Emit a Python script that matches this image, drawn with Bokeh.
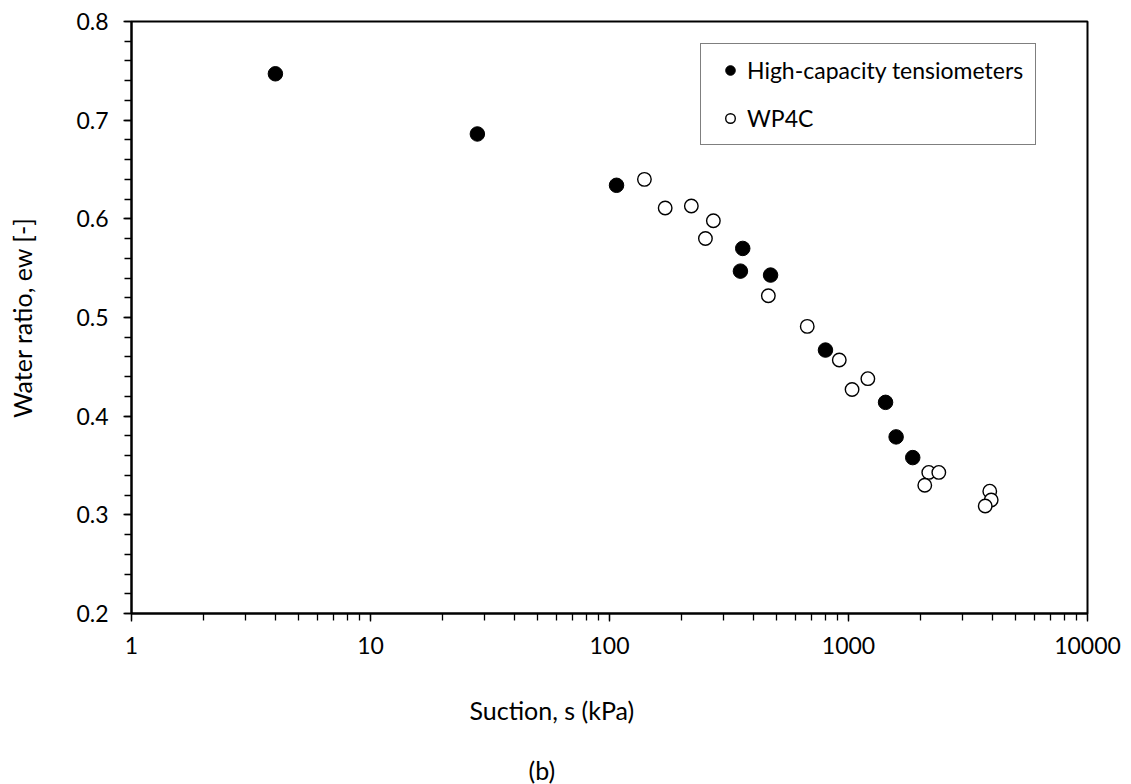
from bokeh.plotting import figure
from bokeh.models import (Range1d, FixedTicker, LogTicker, BasicTickFormatter,
                          Legend, LegendItem, Title)
from bokeh.embed import file_html
from bokeh.resources import INLINE

# ---- data ----
hct_suction = [4.0, 28, 107, 361, 353, 472, 801, 1429, 1582, 1857]
hct_ew = [0.747, 0.686, 0.634, 0.570, 0.547, 0.543, 0.467, 0.414, 0.379, 0.358]

wp4c_suction = [140, 171, 220, 272, 252, 462, 672, 915, 1035, 1205,
                2167, 2387, 2085, 3900, 3954, 3733]
wp4c_ew = [0.640, 0.611, 0.613, 0.598, 0.580, 0.522, 0.491, 0.457, 0.427, 0.438,
           0.343, 0.343, 0.330, 0.324, 0.315, 0.309]

x_ticks = [1, 10, 100, 1000, 10000]
y_ticks = [0.2, 0.3, 0.4, 0.5, 0.6, 0.7, 0.8]
y_minor = [round(0.2 + 0.02 * i, 2) for i in range(31)]

series_names = ["High-capacity tensiometers", "WP4C"]
x_title = "Suction, s (kPa)"
y_title = "Water ratio, ew [-]"
caption = "(b)"

FONT = "Lato"

p = figure(width=1131, height=784, x_axis_type="log",
           x_range=Range1d(1, 10000), y_range=Range1d(0.2, 0.8),
           output_backend="svg", toolbar_location=None,
           min_border_left=131, min_border_right=44,
           min_border_top=21, min_border_bottom=171)
p.background_fill_color = "white"
p.border_fill_color = "white"
p.grid.visible = False
p.outline_line_color = "black"
p.outline_line_width = 2

r1 = p.scatter(hct_suction, hct_ew, size=14.5, marker="circle",
               fill_color="black", line_color="black", line_width=1)
r2 = p.scatter(wp4c_suction, wp4c_ew, size=13.5, marker="circle",
               fill_color="white", line_color="black", line_width=1.4)

xa = p.xaxis[0]
xa.ticker = LogTicker(num_minor_ticks=10, desired_num_ticks=5)
xa.formatter = BasicTickFormatter(use_scientific=False)
ya = p.yaxis[0]
ya.ticker = FixedTicker(ticks=y_ticks, minor_ticks=y_minor)

for ax in (xa, ya):
    ax.axis_line_color = "black"
    ax.axis_line_width = 2
    ax.major_tick_line_color = "black"
    ax.minor_tick_line_color = "black"
    ax.major_tick_line_width = 1.3
    ax.minor_tick_line_width = 1.3
    ax.major_tick_in = 0
    ax.minor_tick_in = 0
    ax.major_tick_out = 8
    ax.minor_tick_out = 7
    ax.major_label_text_font = FONT
    ax.major_label_text_font_size = "23px"
    ax.major_label_text_color = "black"
    ax.axis_label_text_font = FONT
    ax.axis_label_text_font_size = "25px"
    ax.axis_label_text_font_style = "normal"
    ax.axis_label_text_color = "black"
xa.major_label_standoff = 15
ya.major_label_standoff = 15

ya.axis_label = y_title
ya.axis_label_standoff = 36

legend = Legend(items=[LegendItem(label=series_names[0], renderers=[r1]),
                       LegendItem(label=series_names[1], renderers=[r2])],
                location=(569, 468))
legend.label_text_font = FONT
legend.label_text_font_size = "23px"
legend.label_text_color = "black"
legend.padding = 12
legend.spacing = 20
legend.glyph_height = 24
legend.glyph_width = 34
legend.label_height = 24
legend.label_standoff = 0
legend.margin = 0
legend.border_line_color = "black"
legend.border_line_width = 1.5
legend.background_fill_color = "white"
legend.background_fill_alpha = 1
p.add_layout(legend)

t1 = Title(text=x_title, align="left", offset=338, standoff=72,
           text_font=FONT, text_font_size="25px", text_font_style="normal",
           text_color="black")
t2 = Title(text=caption, align="left", offset=397, standoff=-16,
           text_font=FONT, text_font_size="25px", text_font_style="normal",
           text_color="black")
p.add_layout(t1, "below")
p.add_layout(t2, "below")

open("out.html", "w").write(file_html(p, INLINE))
